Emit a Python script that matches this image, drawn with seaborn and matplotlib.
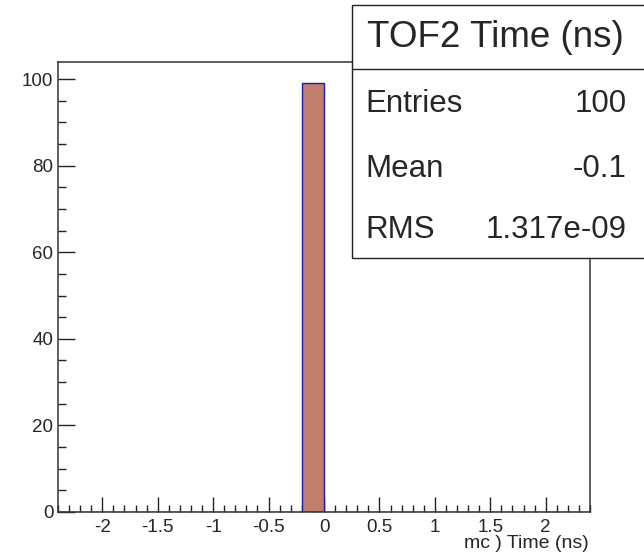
import numpy as np
import pandas as pd
import matplotlib
matplotlib.use("Agg")
import matplotlib.pyplot as plt
from matplotlib.patches import Rectangle
from matplotlib.lines import Line2D
from matplotlib.ticker import MultipleLocator
import seaborn as sns

# ---- data ----
bin_lo, bin_hi, bin_width = -2.4, 2.4, 0.2
bin_centers = [-0.1]
bin_counts = [99]
stat_title = "TOF2 Time (ns)"
stat_names = ["Entries", "Mean", "RMS"]
stat_values = ["100", "-0.1", "1.317e-09"]
x_label = "mc ) Time (ns)"
y_max = 103.95

sns.set_style("ticks")
plt.rcParams["font.family"] = ["Liberation Sans", "DejaVu Sans"]

fig = plt.figure(figsize=(6.44, 5.55), dpi=100)
ax = fig.add_axes([58/644, (555-512)/555, 532/644, 450/555])

df = pd.DataFrame({"t": bin_centers, "n": bin_counts})
sns.histplot(data=df, x="t", weights="n", binwidth=bin_width, binrange=(bin_lo, bin_hi),
             ax=ax, color="#C07E6E", edgecolor="#1c1ca0", linewidth=1.0, alpha=1.0)

ax.set_xlim(bin_lo, bin_hi)
ax.set_ylim(0, y_max)
ax.set_xlabel("")
ax.set_ylabel("")
ax.xaxis.set_major_locator(MultipleLocator(0.5))
ax.xaxis.set_minor_locator(MultipleLocator(0.1))
ax.yaxis.set_major_locator(MultipleLocator(20))
ax.yaxis.set_minor_locator(MultipleLocator(5))
ax.set_xticks([-2, -1.5, -1, -0.5, 0, 0.5, 1, 1.5, 2])
ax.set_xticklabels(["-2", "-1.5", "-1", "-0.5", "0", "0.5", "1", "1.5", "2"])
ax.tick_params(axis="both", which="both", direction="in", top=False, right=False,
               color="#222222", width=1.0)
ax.tick_params(axis="x", which="major", length=10.5, pad=5.0, labelsize=13.5)
ax.tick_params(axis="x", which="minor", length=5.2)
ax.tick_params(axis="y", which="major", length=12, pad=3.4, labelsize=13.5)
ax.tick_params(axis="y", which="minor", length=6)
for s in ax.spines.values():
    s.set_visible(True)
    s.set_linewidth(1.1)
    s.set_color("#333333")

fig.text(589/644, (555-544)/555, x_label, ha="right", va="center", fontsize=14)

# ---- stats box ----
fx = lambda px: px/644
fy = lambda py: (555-py)/555
box = Rectangle((fx(352), fy(258)), 1.0, fy(5) - fy(258), transform=fig.transFigure,
                facecolor="white", edgecolor="#222222", linewidth=1.0, zorder=10)
fig.patches.append(box)
fig.lines.append(Line2D([fx(352), 1.2], [fy(69), fy(69)], transform=fig.transFigure,
                        color="#222222", linewidth=1.0, zorder=11))
fig.text(fx(495), fy(46.7), stat_title, ha="center", va="baseline", fontsize=26.5, zorder=12)
for name, val, base in zip(stat_names, stat_values, [111.7, 177, 238]):
    fig.text(fx(365), fy(base), name, ha="left", va="baseline", fontsize=22.5, zorder=12)
    fig.text(fx(627), fy(base), val, ha="right", va="baseline", fontsize=22.5, zorder=12)

fig.savefig("out.png", dpi=100)
